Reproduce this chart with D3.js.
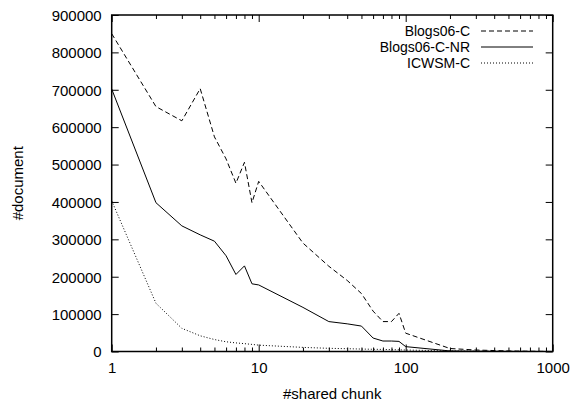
<!DOCTYPE html>
<html>
<head>
<meta charset="utf-8">
<script src="https://cdn.jsdelivr.net/npm/d3@7"></script>
<style>
  html, body { margin: 0; padding: 0; background: #fff; }
  svg { display: block; }
  text { font-family: "Liberation Sans", Arial, Helvetica, sans-serif; fill: #000; }
</style>
</head>
<body>
<svg id="chart" width="573" height="403"></svg>
<script>
// ---- data ----
const chunks = [1,2,3,4,5,6,7,8,9,10,20,30,40,50,60,70,80,90,100,200,300,400,500,600,700,800,900,1000];
const blogs06C = [850000,655000,617000,703000,574000,515000,450000,506000,398000,455000,
                  290000,228000,190000,155000,108000,80000,80000,102000,49000,
                  8000,4000,2500,1500,1000,700,500,300,100];
const blogs06CNR = [702000,398000,336000,312000,295000,256000,206000,229000,181000,178000,
                    118000,80000,74000,68000,36000,28000,28000,27000,13000,
                    1500,800,500,300,200,100,50,20,0];
const icwsmC = [403000,129000,62000,42000,32000,26000,23000,21000,19000,17000,
                11000,8500,7500,6500,6000,5500,5000,4500,4000,
                1500,800,500,300,200,100,50,20,0];
const seriesNames = ["Blogs06-C", "Blogs06-C-NR", "ICWSM-C"];
const yTickValues = [0,100000,200000,300000,400000,500000,600000,700000,800000,900000];
const xTickValues = [1,10,100,1000];
const xMinorTicks = [2,3,4,5,6,7,8,9,20,30,40,50,60,70,80,90,200,300,400,500,600,700,800,900];
const xLabel = "#shared chunk";
const yLabel = "#document";

// ---- layout ----
const L = 111.7, R = 552.7, T = 15, B = 351.5;
const svg = d3.select("#chart");
const x = d3.scaleLog().domain([1, 1000]).range([L, R]);
const y = d3.scaleLinear().domain([0, 900000]).range([B, T]);
const FS = "15px";

function styleAxis(g) {
  g.select(".domain").remove();
  g.selectAll(".tick line").attr("stroke", "#000").attr("stroke-width", 1);
  g.selectAll("text").style("font-size", FS).attr("fill", "#000");
}

// left axis with labels
svg.append("g").attr("transform", `translate(${L},0)`)
  .call(d3.axisLeft(y).tickValues(yTickValues).tickFormat(d3.format("d")).tickSize(-7).tickPadding(10))
  .call(styleAxis)
  .selectAll("text").attr("dy", "0.36em");
// right axis mirror
svg.append("g").attr("transform", `translate(${R},0)`)
  .call(d3.axisRight(y).tickValues(yTickValues).tickFormat("").tickSize(-7))
  .call(styleAxis);
// bottom axis major
svg.append("g").attr("transform", `translate(0,${B})`)
  .call(d3.axisBottom(x).tickValues(xTickValues).tickFormat(d3.format("d")).tickSize(-7).tickPadding(11))
  .call(styleAxis);
// bottom minor
svg.append("g").attr("transform", `translate(0,${B})`)
  .call(d3.axisBottom(x).tickValues(xMinorTicks).tickFormat("").tickSize(-4))
  .call(styleAxis);
// top major / minor
svg.append("g").attr("transform", `translate(0,${T})`)
  .call(d3.axisTop(x).tickValues(xTickValues).tickFormat("").tickSize(-7))
  .call(styleAxis);
svg.append("g").attr("transform", `translate(0,${T})`)
  .call(d3.axisTop(x).tickValues(xMinorTicks).tickFormat("").tickSize(-4))
  .call(styleAxis);

// frame
svg.append("rect").attr("x", L).attr("y", T).attr("width", R - L).attr("height", B - T)
  .attr("fill", "none").attr("stroke", "#000").attr("stroke-width", 1.5);

// lines
const dashes = ["5,3", null, "1,2"];
const allSeries = [blogs06C, blogs06CNR, icwsmC];
const line = d3.line().x(d => x(d[0])).y(d => y(d[1]));
allSeries.forEach((vals, i) => {
  svg.append("path")
    .datum(chunks.map((c, j) => [c, vals[j]]))
    .attr("d", line)
    .attr("fill", "none")
    .attr("stroke", "#000")
    .attr("stroke-width", 1)
    .attr("stroke-dasharray", dashes[i]);
});

// legend
const legY = [31, 47, 63];
seriesNames.forEach((name, i) => {
  svg.append("text").attr("x", 470).attr("y", legY[i]).attr("dy", "0.36em")
    .attr("text-anchor", "end").style("font-size", "14px").text(name);
  svg.append("line").attr("x1", 481).attr("x2", 533).attr("y1", legY[i]).attr("y2", legY[i])
    .attr("stroke", "#000").attr("stroke-width", 1).attr("stroke-dasharray", dashes[i]);
});

// axis labels
svg.append("text").attr("x", (L + R) / 2).attr("y", 399).attr("text-anchor", "middle")
  .style("font-size", FS).text(xLabel);
svg.append("text").attr("transform", `translate(23,${(T + B) / 2}) rotate(-90)`)
  .attr("text-anchor", "middle").style("font-size", FS).text(yLabel);
</script>
</body>
</html>
